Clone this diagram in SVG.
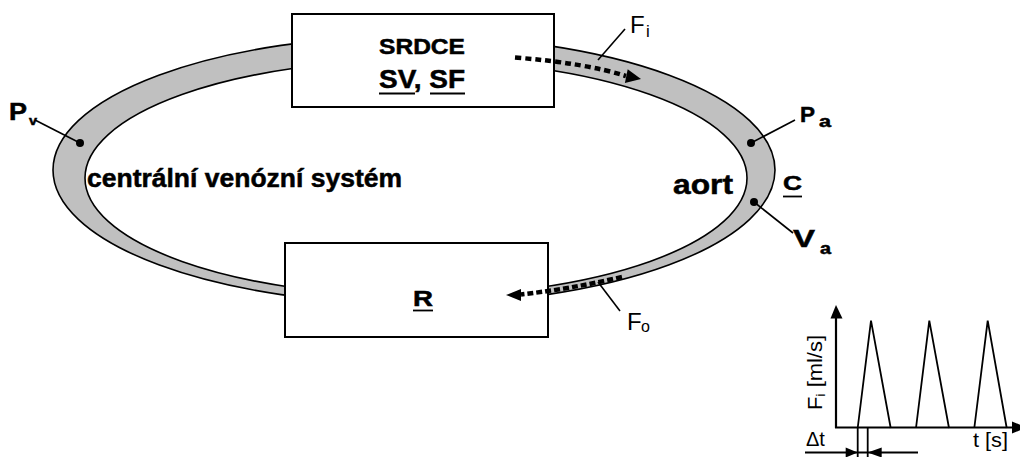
<svg xmlns="http://www.w3.org/2000/svg" width="1020" height="457" viewBox="0 0 1020 457">
<style>
text{font-family:"Liberation Sans",Arial,sans-serif;fill:#000}
.b{font-weight:bold;stroke:#000;stroke-width:0.5}
.box{fill:#fff;stroke:#000;stroke-width:2}
.ring{fill:#c0c0c0;stroke:#000;stroke-width:1.6;fill-rule:evenodd}
.ld{stroke:#000;stroke-width:1.6;fill:none}
.ln{stroke:#000;stroke-width:1.8;fill:none}
.ax{stroke:#000;stroke-width:2.2;fill:none}
.dot{fill:#000}
.dash{stroke:#000;stroke-width:4.5;fill:none}
</style>
<rect width="1020" height="457" fill="#fff"/>
<g id="ring">
<path class="ring" d="M53,170 A361,134 0 1,0 775,170 A361,134 0 1,0 53,170 Z M85,178 A331,118 0 1,0 747,178 A331,118 0 1,0 85,178 Z"/>
</g>
<g id="srdce">
<rect class="box" x="292" y="14" width="262" height="93"/>
<text class="b" x="379" y="54" font-size="22" textLength="86" lengthAdjust="spacingAndGlyphs">SRDCE</text>
<text class="b" x="379" y="88" font-size="25" textLength="86" lengthAdjust="spacingAndGlyphs">SV, SF</text>
<line class="ln" x1="379" y1="93.5" x2="415" y2="93.5" stroke-width="2.4"/>
<line class="ln" x1="430" y1="93.5" x2="465" y2="93.5" stroke-width="2.4"/>
</g>
<g id="odpor">
<rect class="box" x="285" y="243" width="263" height="94"/>
<text class="b" x="413" y="306" font-size="22" textLength="20" lengthAdjust="spacingAndGlyphs">R</text>
<line class="ln" x1="413" y1="310.5" x2="433" y2="310.5" stroke-width="2.4"/>
</g>
<g id="labels">
<text class="b" x="87" y="187" font-size="25" textLength="315" lengthAdjust="spacingAndGlyphs">centrální venózní systém</text>
<text class="b" x="673" y="194" font-size="27" textLength="60" lengthAdjust="spacingAndGlyphs">aort</text>
<text class="b" x="783" y="190" font-size="21" textLength="19" lengthAdjust="spacingAndGlyphs">C</text>
<line class="ln" x1="783" y1="196.5" x2="802" y2="196.5" stroke-width="2.4"/>
<text class="b" x="800" y="122" font-size="22" textLength="15" lengthAdjust="spacingAndGlyphs">P</text>
<text class="b" x="819" y="127" font-size="16" textLength="12" lengthAdjust="spacingAndGlyphs">a</text>
<text class="b" x="793" y="247" font-size="24" textLength="22" lengthAdjust="spacingAndGlyphs">V</text>
<text class="b" x="820" y="254" font-size="16" textLength="11" lengthAdjust="spacingAndGlyphs">a</text>
<text class="b" x="9" y="120" font-size="23" textLength="18" lengthAdjust="spacingAndGlyphs">P</text>
<text class="b" x="29" y="125" font-size="13" textLength="8" lengthAdjust="spacingAndGlyphs">v</text>
<text x="630" y="33" font-size="24">F</text>
<text x="646" y="37" font-size="17">i</text>
<text x="627" y="330" font-size="24">F</text>
<text x="641" y="332" font-size="16">o</text>
</g>
<g id="connectors">
<line class="ld" x1="751" y1="143" x2="795" y2="120"/>
<circle class="dot" cx="751" cy="143" r="4"/>
<line class="ld" x1="754" y1="202" x2="793" y2="233"/>
<circle class="dot" cx="754" cy="202" r="4"/>
<line class="ld" x1="80" y1="143" x2="35" y2="120"/>
<circle class="dot" cx="80" cy="143" r="4"/>
<line class="ld" x1="598" y1="60" x2="625" y2="29"/>
<line class="ld" x1="598" y1="282" x2="620" y2="311"/>
<path class="dash" d="M515,57.5 Q585,63 626,76" stroke-dasharray="6 4"/>
<polygon points="641,79 627.7,69.2 624.9,83" fill="#000"/>
<path class="dash" d="M622,277 Q570,289 521,294.5" stroke-dasharray="6 3"/>
<polygon points="506,295 521,289 521,301" fill="#000"/>
</g>
<g id="chart">
<line class="ax" x1="836" y1="428" x2="836" y2="316"/>
<polygon points="836,305 830.5,318.5 842.5,318.5" fill="#000"/>
<line class="ax" x1="835" y1="427.5" x2="1014" y2="427.5"/>
<polygon points="1027,427.5 1012,421.5 1012,433.5" fill="#000"/>
<polyline class="ln" points="857.7,428 871,320.7 890.7,428"/>
<polyline class="ln" points="916,428 929.3,320.7 949,428"/>
<polyline class="ln" points="974.3,428 987.7,320.7 1006.7,428"/>
<line class="ln" x1="857.7" y1="428" x2="857.7" y2="457"/>
<line class="ln" x1="867.7" y1="428" x2="867.7" y2="457"/>
<line class="ln" x1="805" y1="452.5" x2="918" y2="452.5"/>
<polygon points="857.7,452.5 845.7,447.5 845.7,457.5" fill="#000"/>
<polygon points="867.7,452.5 881.7,447.5 881.7,457.5" fill="#000"/>
<text transform="translate(822,410) rotate(-90)" font-size="20" textLength="75" lengthAdjust="spacingAndGlyphs">F<tspan font-size="13" dy="3">i</tspan><tspan dy="-3"> [ml/s]</tspan></text>
<text x="973" y="447" font-size="21" textLength="35" lengthAdjust="spacingAndGlyphs">t [s]</text>
<text x="806" y="446" font-size="20">Δt</text>
</g>
</svg>
